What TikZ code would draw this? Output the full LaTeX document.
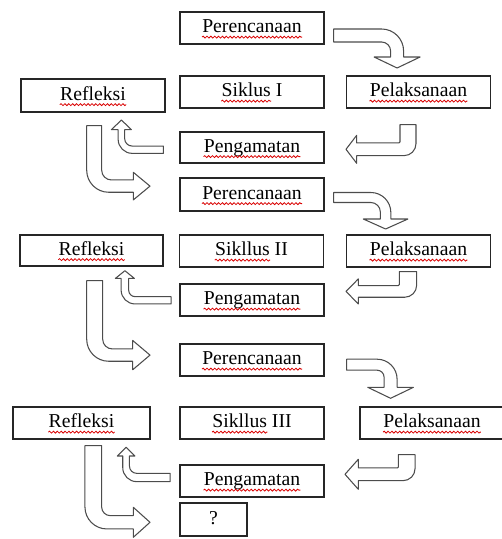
\documentclass[tikz,border=0pt]{standalone}
\usepackage{fontspec}
\setmainfont{Liberation Serif}
\usetikzlibrary{calc,decorations.pathmorphing}

\tikzset{
	box/.style={draw=black!85, line width=0.7pt, minimum width=2.88cm, minimum height=0.64cm,
		inner sep=0pt, text height=7.8pt, text depth=2.2pt, font=\fontsize{11.2}{13}\selectfont},
	blockarrow/.style={draw=black!70, fill=white, line width=0.6pt, line join=round},
	squig/.style={draw=red!85!black, line width=0.45pt, decorate,
		decoration={snake, amplitude=0.55pt, segment length=2.2pt}}
}

\newcommand\spellwave[1]{\tikz[baseline=(word.base), x=1cm, y=1cm]{%
	\node[draw=none, inner sep=0pt, minimum width=0pt, minimum height=0pt, text height=, text depth=] (word) {#1};
	\draw[squig, overlay] ([yshift=-2.4pt]word.base west) -- ([yshift=-2.4pt]word.base east);}}

\newcommand\bentarrow[8]{%
	\begin{scope}[#1]
		\pgfmathsetmacro\bR{#8}
		\pgfmathsetmacro\br{max(#8-#5,1)}
		\draw[blockarrow] (0,{#4/2}) -- ({#2+#5/2-\bR},{#4/2})
			arc[start angle=90, end angle=0, radius=\bR]
			-- ({#2+#5/2},{-(#3-#7)}) -- ({#2+#6/2},{-(#3-#7)}) -- (#2,-#3)
			-- ({#2-#6/2},{-(#3-#7)}) -- ({#2-#5/2},{-(#3-#7)})
			-- ({#2-#5/2},{-#4/2-\br}) arc[start angle=0, end angle=90, radius=\br]
			-- (0,{-#4/2}) -- cycle;
	\end{scope}}

\begin{document}
\begin{tikzpicture}[x=0.02cm, y=0.02cm]
		\useasboundingbox (0,0) rectangle (502,539);

		\node[box] (per1) at (252,511) {\spellwave{Perencanaan}};
		\node[box] (sik1) at (252,447) {\spellwave{Siklus} I};
		\node[box] (pel1) at (418.5,447) {\spellwave{Pelaksanaan}};
		\node[box, minimum height=0.66cm] (ref1) at (93,443.5) {\spellwave{Refleksi}};
		\node[box, minimum height=0.62cm] (pen1) at (252,391.5) {\spellwave{Pengamatan}};

		\node[box, minimum height=0.66cm] (per2) at (252,344.5) {\spellwave{Perencanaan}};
		\node[box] (sik2) at (251.5,288) {\spellwave{Sikllus} II};
		\node[box] (pel2) at (418.5,288) {\spellwave{Pelaksanaan}};
		\node[box, minimum width=2.86cm, minimum height=0.62cm] (ref2) at (91.5,288.5) {\spellwave{Refleksi}};
		\node[box] (pen2) at (252,239) {\spellwave{Pengamatan}};

		\node[box] (per3) at (252,179) {\spellwave{Perencanaan}};
		\node[box, minimum width=2.74cm] (ref3) at (81.5,116) {\spellwave{Refleksi}};
		\node[box] (sik3) at (252,116) {\spellwave{Sikllus} III};
		\node[box] (pel3) at (432,116) {\spellwave{Pelaksanaan}};
		\node[box] (pen3) at (252,58) {\spellwave{Pengamatan}};
		\node[box, minimum width=1.34cm, minimum height=0.66cm] (q) at (213.5,19.5) {?};

		\bentarrow{shift={($(per1.east)+(9,-7.5)$)}}{63.5}{32.5}{13}{13}{46}{11}{22}
		\bentarrow{shift={($(pel1.south)+(-10.5,-16)$)}, rotate=-90}{24.7}{62}{16}{12.7}{28}{10.7}{12}
		\bentarrow{shift={($(pen1.west)+(-16,-2.2)$)}, rotate=180}{42}{29.7}{7.3}{6.5}{20}{9.7}{14}
		\bentarrow{shift={($(ref1.south)+(1.2,-13)$)}, rotate=-90, yscale=-1}{60.5}{55.8}{15}{12.3}{27.6}{16.7}{22}

		\bentarrow{shift={($(per2.east)+(9,-3)$)}}{52}{31.5}{10}{10.5}{44.6}{10}{20}
		\bentarrow{shift={($(pel2.south)+(-10.5,-4)$)}, rotate=-90}{19.8}{62}{17.3}{11.7}{25}{12.3}{12}
		\bentarrow{shift={($(pen2.west)+(-8.3,-0.3)$)}, rotate=180}{46.2}{29.6}{7.3}{7.6}{19}{7.7}{14}
		\bentarrow{shift={($(ref2.south)+(3.2,-14)$)}, rotate=-90, yscale=-1}{74.5}{55.3}{16}{12.3}{29.3}{17.3}{22}

		\bentarrow{shift={($(per3.east)+(22,-4.7)$)}}{44}{33.6}{11}{13}{45.7}{11}{20}
		\bentarrow{shift={($(pel3.south)+(-25.3,-15)$)}, rotate=-90}{19.7}{61.7}{16.7}{12.7}{30}{13.3}{12}
		\bentarrow{shift={($(pen3.west)+(-9.3,3.5)$)}, rotate=180}{44}{30.2}{8.3}{6.7}{17.7}{8.7}{14}
		\bentarrow{shift={($(ref3.south)+(11.8,-6)$)}, rotate=-90, yscale=-1}{76.7}{56.7}{16.7}{13.3}{30}{16.7}{22}
	\end{tikzpicture}
\end{document}
